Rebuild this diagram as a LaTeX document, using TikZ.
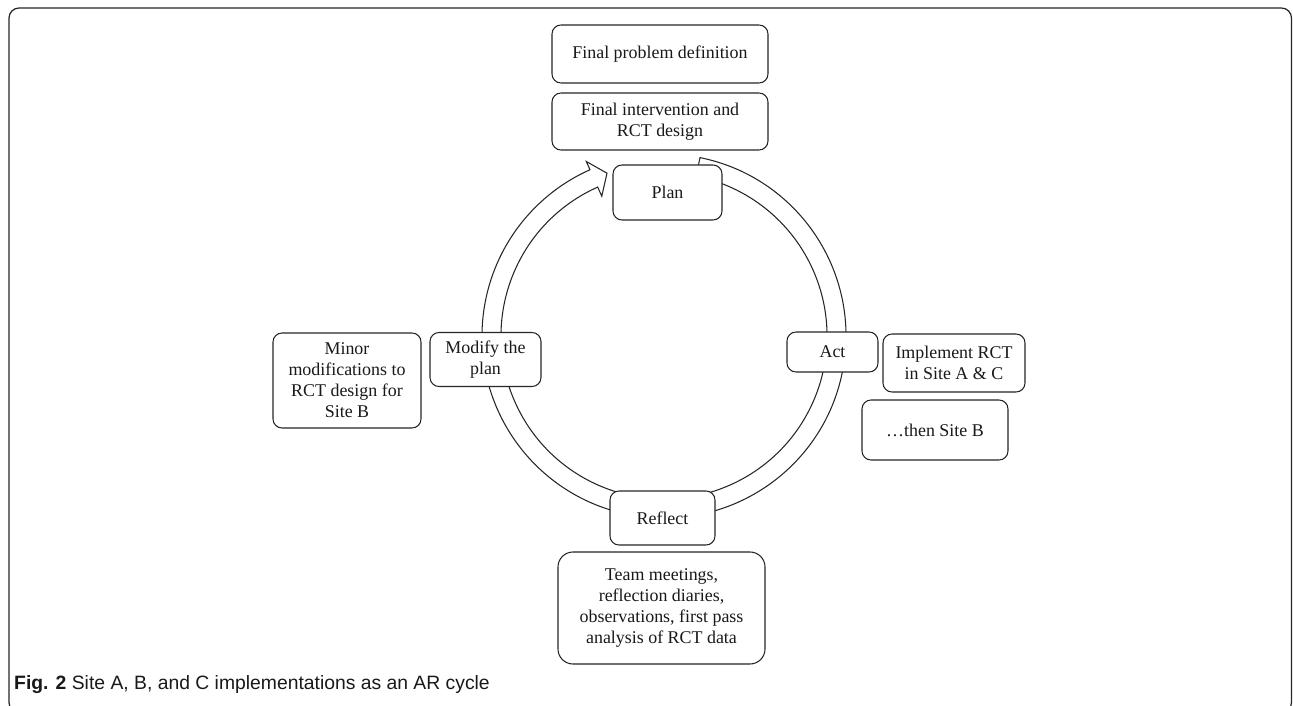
\documentclass[tikz,border=0pt]{standalone}
\usepackage{fontspec}
\setmainfont{Liberation Serif}
\newfontfamily\capfont{Liberation Sans}
\begin{document}
\begin{tikzpicture}[
    box/.style={draw=black!85, line width=0.6pt, rounded corners=0.18cm, fill=white,
      align=center, inner sep=0pt, text=black!90, font=\fontsize{10.2}{12}\selectfont},
    ring/.style={draw=black!85, line width=0.6pt, fill=white}
  ]
  \useasboundingbox (0,0) rectangle (25.86,-14.12);

  % frame round the figure
  \draw[black!85, line width=0.7pt, rounded corners=0.2cm] (0.18,-0.16) rectangle (25.83,-14.25);

  % the cycle arrow
  \begin{scope}[shift={(13.28,-6.72)}]
    \draw[ring] (78.6:3.64) arc[start angle=78.6, end angle=-246, radius=3.64]
      -- (-246:3.82) -- (-250.7:3.45) -- (-246:3.06) -- (-246:3.26)
      arc[start angle=-246, end angle=78.6, radius=3.26] -- cycle;
  \end{scope}

  \node[box, minimum width=4.32cm, minimum height=1.16cm] (probdef) at (13.2,-1.08) {Final problem definition};
  \node[box, minimum width=4.32cm, minimum height=1.14cm] (design) at (13.2,-2.43) {Final intervention and\\RCT design};
  \node[box, minimum width=2.18cm, minimum height=1.1cm] (plan) at (13.35,-3.85) {Plan};
  \node[box, minimum width=1.82cm, minimum height=0.8cm] (act) at (16.65,-7.04) {Act};
  \node[box, minimum width=2.84cm, minimum height=1.16cm] (implement) at (19.08,-7.26) {Implement RCT\\in Site A \& C};
  \node[box, minimum width=2.92cm, minimum height=1.2cm] (siteb) at (18.7,-8.6) {\ldots then Site B};
  \node[box, minimum width=2.1cm, minimum height=1.08cm] (reflect) at (13.25,-10.36) {Reflect};
  \node[box, rounded corners=0.3cm, minimum width=4.14cm, minimum height=2.24cm] (meetings) at (13.23,-12.16)
    {Team meetings,\\reflection diaries,\\observations, first pass\\analysis of RCT data};
  \node[box, minimum width=2.22cm, minimum height=1.08cm] (modify) at (9.71,-7.19) {Modify the\\plan};
  \node[box, minimum width=2.96cm, minimum height=1.9cm] (minor) at (6.94,-7.61)
    {Minor\\modifications to\\RCT design for\\Site B};

  \node[anchor=base west, text=black!90, font=\capfont\fontsize{11}{13}\selectfont] (caption) at (0.16,-13.78)
    {\textbf{Fig. 2} Site A, B, and C implementations as an AR cycle};
\end{tikzpicture}
\end{document}
